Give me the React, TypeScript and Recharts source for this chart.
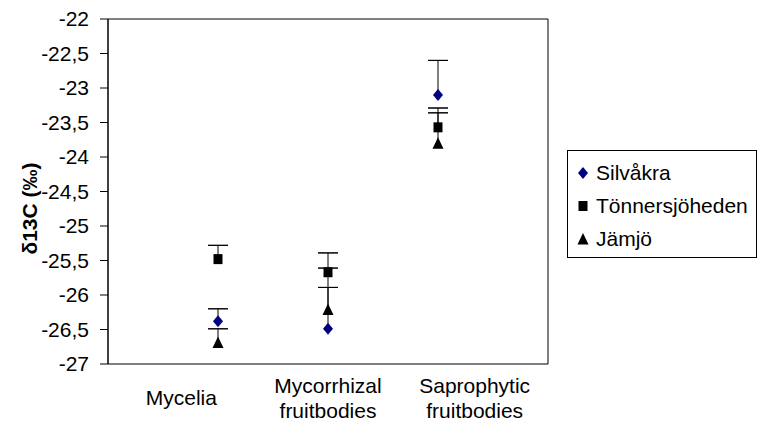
import React from "react";
import { ComposedChart, Scatter, XAxis, YAxis, ErrorBar, ReferenceArea } from "recharts";

const categories = ["Mycelia", "Mycorrhizal\nfruitbodies", "Saprophytic\nfruitbodies"];
const yTicks = [-27, -26.5, -26, -25.5, -25, -24.5, -24, -23.5, -23, -22.5, -22];

const silvakra = [-26.38, -26.49, -23.1];
const silvakraErr = [0.18, 0.6, 0.5];
const tonnersjoheden = [-25.48, -25.67, -23.57];
const tonnersjohedenErr = [0.2, 0.28, 0.21];
const jamjo = [-26.69, -26.21, -23.8];
const jamjoErr = [0.2, 0.6, 0.51];

const FONT = "'Liberation Sans', Arial, sans-serif";

const chartData = categories.map((name) => ({ name }));

// stem: vertical line from the point up to point + err (no visible caps)
// cap: both ends at point + err, so only the horizontal cap is drawn
const toPoints = (values: number[], errs: number[]) =>
  values.map((y, i) => ({ x: i + 1, y, stem: [0, errs[i]], cap: [-errs[i], errs[i]] }));

const Diamond = (props: any) => {
  const { cx, cy, fill } = props;
  return <polygon points={`${cx},${cy - 6} ${cx + 5},${cy} ${cx},${cy + 6} ${cx - 5},${cy}`} fill={fill} />;
};
const Square = (props: any) => {
  const { cx, cy, fill } = props;
  return <rect x={cx - 4.5} y={cy - 5} width={9} height={10} fill={fill} />;
};
const Triangle = (props: any) => {
  const { cx, cy, fill } = props;
  return <polygon points={`${cx},${cy - 6} ${cx + 5.5},${cy + 5.5} ${cx - 5.5},${cy + 5.5}`} fill={fill} />;
};

const series = [
  { name: "Silvåkra", data: toPoints(silvakra, silvakraErr), color: "#000080", shape: Diamond },
  { name: "Tönnersjöheden", data: toPoints(tonnersjoheden, tonnersjohedenErr), color: "#000000", shape: Square },
  { name: "Jämjö", data: toPoints(jamjo, jamjoErr), color: "#000000", shape: Triangle },
];

const CategoryTick = (props: any) => {
  const { x, y, payload } = props;
  const lines = String(payload.value).split("\n");
  const base = lines.length === 1 ? 41 : 29;
  return (
    <text x={x} y={y} textAnchor="middle" fontSize={21} fontFamily={FONT} fill="#000">
      {lines.map((l, i) => (
        <tspan key={i} x={x} y={y + base + i * 25}>
          {l}
        </tspan>
      ))}
    </text>
  );
};

const YLabel = (props: any) => {
  const { viewBox } = props;
  const cx = 29;
  const cy = viewBox.y + viewBox.height / 2 + 17;
  return (
    <text
      x={cx}
      y={cy}
      transform={`rotate(-90, ${cx}, ${cy})`}
      textAnchor="middle"
      dominantBaseline="central"
      fontSize={21}
      fontWeight="bold"
      fontFamily={FONT}
      fill="#000"
    >
      δ13C (‰)
    </text>
  );
};

const LegendIcon = ({ index, color }: { index: number; color: string }) => {
  const Shape = series[index].shape;
  return (
    <svg width={14} height={14} style={{ display: "block" }}>
      <Shape cx={7} cy={7} fill={color} />
    </svg>
  );
};

export default function App() {
  return (
    <div style={{ position: "absolute", left: 0, top: 0, width: 758, height: 427, background: "#fff" }}>
      <ComposedChart width={758} height={427} data={chartData} margin={{ top: 19, right: 210, bottom: 0, left: 48 }}>
        <XAxis xAxisId="pos" type="number" dataKey="x" domain={[0, 4]} hide />
        <XAxis
          xAxisId="cat"
          dataKey="name"
          type="category"
          scale="band"
          height={63}
          axisLine={false}
          tickLine={false}
          tickSize={0}
          tickMargin={0}
          interval={0}
          tick={<CategoryTick />}
        />
        <YAxis
          type="number"
          domain={[-27, -22]}
          ticks={yTicks}
          interval={0}
          width={60}
          allowDataOverflow
          tickSize={8}
          tickMargin={11}
          axisLine={{ stroke: "#000" }}
          tickLine={{ stroke: "#000" }}
          tick={{ fill: "#000", fontSize: 21, fontFamily: FONT }}
          tickFormatter={(v: number) => String(v).replace(".", ",")}
          label={<YLabel />}
        />
        <ReferenceArea xAxisId="pos" x1={0} x2={4} y1={-27} y2={-22} fill="none" stroke="#000" strokeWidth={1} />
        {series.map((s) => (
          <Scatter
            key={s.name}
            xAxisId="pos"
            name={s.name}
            data={s.data}
            dataKey="y"
            fill={s.color}
            shape={s.shape}
            isAnimationActive={false}
          >
            <ErrorBar dataKey="stem" direction="y" width={0} stroke="#000" strokeWidth={1} />
            <ErrorBar dataKey="cap" direction="y" width={10} stroke="#000" strokeWidth={1} />
          </Scatter>
        ))}
      </ComposedChart>
      <div
        style={{
          position: "absolute",
          left: 567,
          top: 150,
          width: 190,
          height: 108,
          border: "1px solid #000",
          boxSizing: "border-box",
          background: "#fff",
          fontFamily: FONT,
          fontSize: 21,
          color: "#000",
        }}
      >
        {series.map((s, i) => (
          <div
            key={s.name}
            style={{ position: "absolute", left: 8, top: 5 + i * 33, height: 33, display: "flex", alignItems: "center" }}
          >
            <LegendIcon index={i} color={s.color} />
            <span style={{ marginLeft: 6, whiteSpace: "nowrap" }}>{s.name}</span>
          </div>
        ))}
      </div>
    </div>
  );
}
